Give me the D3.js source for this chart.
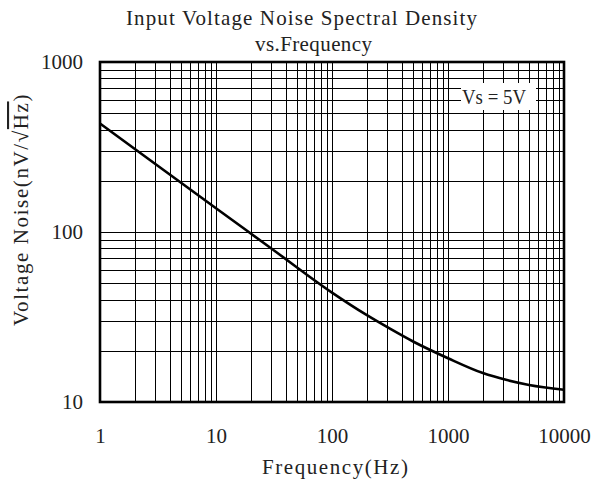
<!DOCTYPE html>
<html>
<head>
<meta charset="utf-8">
<script src="https://cdn.jsdelivr.net/npm/d3@7"></script>
<style>
  body { margin: 0; background: #fff; }
  text { font-family: "Liberation Serif", "DejaVu Serif", serif; fill: #222; }
</style>
</head>
<body>
<div id="chart-container"></div>
<script>
// noise curve
const freq = [1, 3, 10, 30, 100, 200, 316, 500, 1000, 2000, 3162, 5000, 10000];
const noise = [435, 251, 138, 80, 44, 32.4, 27, 22.7, 18.1, 14.8, 13.5, 12.6, 11.8];

const xTicks = [1, 10, 100, 1000, 10000];
const yTicks = [10, 100, 1000];

const svgWidth = 605;
const svgHeight = 482;
const margin = {top: 62, right: 41, bottom: 80, left: 100};
const width = svgWidth - margin.left - margin.right;
const height = svgHeight - margin.top - margin.bottom;

const root = d3.select('#chart-container')
  .append('svg')
  .attr('width', svgWidth)
  .attr('height', svgHeight);

const svg = root.append('g')
  .attr('transform', `translate(${margin.left},${margin.top})`);

const xScale = d3.scaleLog().domain([1, 10000]).range([0, width]);
const yScale = d3.scaleLog().domain([10, 1000]).range([height, 0]);

// grid lines, every 1..9 in each decade
const xGrid = [];
for (let d = 1; d < 10000; d *= 10) for (let k = 1; k < 10; k++) xGrid.push(d * k);
const yGrid = [];
for (let d = 10; d < 1000; d *= 10) for (let k = 1; k < 10; k++) yGrid.push(d * k);

svg.append('g')
  .selectAll('line')
  .data(xGrid.slice(1))
  .enter()
  .append('line')
  .attr('x1', d => Math.round(xScale(d)) + 0.5)
  .attr('x2', d => Math.round(xScale(d)) + 0.5)
  .attr('y1', 0)
  .attr('y2', height)
  .attr('stroke', '#000')
  .attr('stroke-width', 1);

svg.append('g')
  .selectAll('line')
  .data(yGrid.slice(1))
  .enter()
  .append('line')
  .attr('x1', 0)
  .attr('x2', width)
  .attr('y1', d => Math.round(yScale(d)) + 0.5)
  .attr('y2', d => Math.round(yScale(d)) + 0.5)
  .attr('stroke', '#000')
  .attr('stroke-width', 1);

// curve
const line = d3.line()
  .x(d => xScale(d[0]))
  .y(d => yScale(d[1]))
  .curve(d3.curveMonotoneX);

svg.append('path')
  .datum(freq.map((f, i) => [f, noise[i]]))
  .attr('d', line)
  .attr('fill', 'none')
  .attr('stroke', '#000')
  .attr('stroke-width', 2.6);

// frame
svg.append('rect')
  .attr('x', 0)
  .attr('y', 0)
  .attr('width', width)
  .attr('height', height)
  .attr('fill', 'none')
  .attr('stroke', '#000')
  .attr('stroke-width', 2.6);

// axes (labels only)
const xAxis = svg.append('g')
  .attr('transform', `translate(0,${height})`)
  .call(d3.axisBottom(xScale).tickValues(xTicks).tickFormat(d3.format('d')).tickSize(0).tickPadding(26));
const yAxis = svg.append('g')
  .call(d3.axisLeft(yScale).tickValues(yTicks).tickFormat(d3.format('d')).tickSize(0).tickPadding(17));
[xAxis, yAxis].forEach(a => {
  a.select('.domain').remove();
  a.selectAll('text')
    .style('font-family', '"Liberation Serif", serif')
    .style('font-size', '21px')
    .attr('fill', '#222');
});

// Vs label box
svg.append('rect')
  .attr('x', 361)
  .attr('y', 21)
  .attr('width', 75)
  .attr('height', 27)
  .attr('fill', '#fff');
svg.append('text')
  .attr('x', 362)
  .attr('y', 42)
  .attr('textLength', 64)
  .attr('lengthAdjust', 'spacingAndGlyphs')
  .style('font-size', '21px')
  .style('white-space', 'pre')
  .text('Vs = 5V');

// titles
root.append('text')
  .attr('x', 126)
  .attr('y', 25)
  .attr('textLength', 351)
  .attr('lengthAdjust', 'spacing')
  .style('font-size', '21px')
  .text('Input Voltage Noise Spectral Density');
root.append('text')
  .attr('x', 255)
  .attr('y', 51)
  .attr('textLength', 117)
  .attr('lengthAdjust', 'spacing')
  .style('font-size', '21px')
  .text('vs.Frequency');

root.append('text')
  .attr('x', 262)
  .attr('y', 474)
  .attr('textLength', 146)
  .attr('lengthAdjust', 'spacing')
  .style('font-size', '21px')
  .text('Frequency(Hz)');

const yLabel = root.append('text')
  .attr('transform', 'translate(28,326) rotate(-90)')
  .style('font-size', '21px')
  .style('letter-spacing', '1.6px');
yLabel.append('tspan').text('Voltage Noise(nV/');
yLabel.append('tspan').style('font-weight', 'bold').text('√');
yLabel.append('tspan').style('text-decoration', 'overline').text('Hz');
yLabel.append('tspan').text(')');
</script>
</body>
</html>
